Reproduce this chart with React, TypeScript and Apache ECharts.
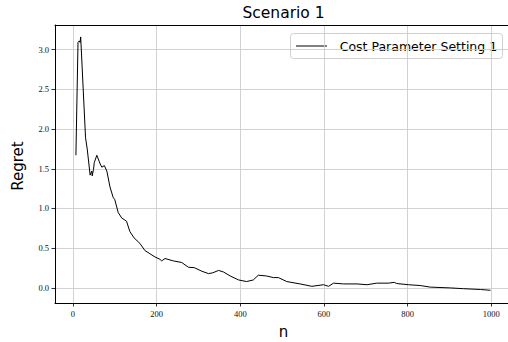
import React, { useEffect, useRef } from "react";
import * as echarts from "echarts";

const nValues = [7, 12, 15, 17, 18.4, 30, 34, 41, 45, 46, 49, 51, 57, 65, 69, 75, 81, 88.5, 96, 100, 108, 116.5, 128, 136, 146, 160, 172, 184, 196, 208, 212, 220, 240, 260, 276, 290, 308, 324, 334, 348, 360, 376, 396, 415, 431, 443, 463, 479, 491, 511, 543, 571, 599, 611, 623, 647, 679, 703, 726, 754, 768, 774, 802, 830, 854, 902, 934, 974, 998];
const regretValues = [1.67, 3.09, 3.11, 3.09, 3.16, 1.89, 1.75, 1.42, 1.47, 1.41, 1.49, 1.58, 1.67, 1.56, 1.52, 1.54, 1.47, 1.27, 1.14, 1.11, 0.95, 0.88, 0.84, 0.71, 0.63, 0.56, 0.47, 0.43, 0.39, 0.36, 0.34, 0.37, 0.34, 0.32, 0.26, 0.255, 0.21, 0.18, 0.19, 0.22, 0.20, 0.15, 0.10, 0.08, 0.10, 0.16, 0.15, 0.13, 0.13, 0.08, 0.05, 0.02, 0.04, 0.02, 0.06, 0.05, 0.05, 0.04, 0.06, 0.06, 0.07, 0.055, 0.04, 0.03, 0.01, 0.0, -0.01, -0.02, -0.03];
const xTicks = [0, 200, 400, 600, 800, 1000];
const yTicks = [0, 0.5, 1.0, 1.5, 2.0, 2.5, 3.0];
const seriesName = "Cost Parameter Setting 1";
const titleText = "Scenario 1";
const xLabel = "n";
const yLabel = "Regret";

const GRID = "#cdcdcd";
const TICK_FONT = "'Liberation Serif', serif";
const SANS = "'DejaVu Sans', sans-serif";

export default function App() {
  const ref = useRef<HTMLDivElement>(null);
  useEffect(() => {
    document.body.style.margin = "0";
    const chart = echarts.init(ref.current!, null, { renderer: "svg" });
    const data = nValues.map((n, i) => [n, regretValues[i]]);
    chart.setOption({
      animation: false,
      backgroundColor: "#ffffff",
      grid: { left: 55, top: 25, right: 0, bottom: 39, containLabel: false },
      xAxis: [
        {
          type: "value",
          min: -43,
          max: 1040,
          axisLine: { show: true, onZero: false, lineStyle: { color: "#000", width: 1 } },
          axisTick: { show: true, length: 3.5, customValues: xTicks, lineStyle: { color: "#000", width: 0.8 } },
          axisLabel: {
            customValues: xTicks,
            color: "#111",
            fontFamily: TICK_FONT,
            fontSize: 8.5,
            margin: 6,
            formatter: (v: number) => String(v),
          },
          splitLine: { show: true, lineStyle: { color: GRID, width: 0.9 } },
        },
        {
          type: "value",
          position: "top",
          min: -43,
          max: 1040,
          axisLine: { show: true, onZero: false, lineStyle: { color: "#000", width: 1 } },
          axisTick: { show: false },
          axisLabel: { show: false },
          splitLine: { show: false },
        },
      ],
      yAxis: {
        type: "value",
        min: -0.19,
        max: 3.31,
        axisLine: { show: true, onZero: false, lineStyle: { color: "#000", width: 1 } },
        axisTick: { show: true, length: 3.5, customValues: yTicks, lineStyle: { color: "#000", width: 0.8 } },
        axisLabel: {
          customValues: yTicks,
          color: "#111",
          fontFamily: TICK_FONT,
          fontSize: 8.5,
          margin: 6,
          formatter: (v: number) => v.toFixed(1),
        },
        splitLine: { show: true, lineStyle: { color: GRID, width: 0.9 } },
      },
      series: [
        {
          name: seriesName,
          type: "line",
          data,
          symbol: "none",
          xAxisIndex: 0,
          lineStyle: { color: "#000", width: 1 },
          itemStyle: { color: "#000" },
        },
      ],
      graphic: [
        {
          type: "text",
          x: 283.5,
          y: 13,
          style: { text: titleText, font: `15.5px ${SANS}`, fill: "#000", textAlign: "center", textVerticalAlign: "middle" },
        },
        {
          type: "text",
          x: 283.5,
          y: 332,
          style: { text: xLabel, font: `15px ${SANS}`, fill: "#000", textAlign: "center", textVerticalAlign: "middle" },
        },
        {
          type: "text",
          x: 17.5,
          y: 166,
          rotation: Math.PI / 2,
          style: { text: yLabel, font: `15px ${SANS}`, fill: "#000", textAlign: "center", textVerticalAlign: "middle" },
        },
        {
          type: "group",
          z: 100,
          children: [
            {
              type: "rect",
              shape: { x: 290.5, y: 33.5, width: 212, height: 25, r: 3 },
              style: { fill: "rgba(255,255,255,0.85)", stroke: "#d0d0d0", lineWidth: 1 },
            },
            {
              type: "line",
              shape: { x1: 296, y1: 46, x2: 327, y2: 46 },
              style: { stroke: "#000", lineWidth: 1 },
            },
            {
              type: "text",
              x: 339.7,
              y: 46,
              style: { text: seriesName, font: `12.5px ${SANS}`, fill: "#000", textAlign: "left", textVerticalAlign: "middle" },
            },
          ],
        },
      ],
    });
    return () => chart.dispose();
  }, []);
  return <div ref={ref} style={{ width: 508, height: 342 }} />;
}
